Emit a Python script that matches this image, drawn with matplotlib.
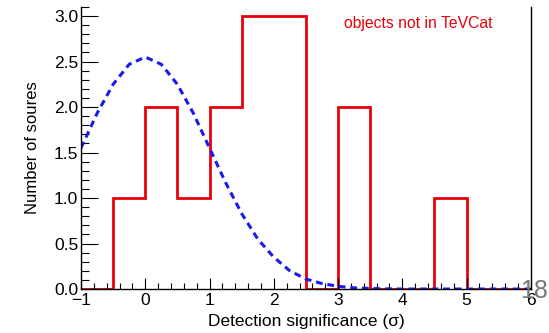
import matplotlib
matplotlib.use("Agg")
import matplotlib.pyplot as plt
import numpy as np
from matplotlib.ticker import MultipleLocator

# histogram of detection significance, bins of 0.5 sigma
edges = [-1.0, -0.5, 0.0, 0.5, 1.0, 1.5, 2.0, 2.5, 3.0, 3.5, 4.0, 4.5, 5.0, 5.5, 6.0]
counts = [0, 1, 2, 1, 2, 3, 3, 0, 2, 0, 0, 1, 0, 0]

# expected curve
curve_x = [-1.0, -0.75, -0.5, -0.25, 0.0, 0.25, 0.5, 0.75, 1.0, 1.25, 1.5, 1.75,
           2.0, 2.25, 2.5, 2.75, 3.0, 3.25, 3.5, 3.75, 4.0, 5.0, 6.0]
curve_y = [1.55, 1.93, 2.25, 2.47, 2.55, 2.47, 2.25, 1.93, 1.55, 1.17, 0.83, 0.55,
           0.35, 0.20, 0.11, 0.06, 0.03, 0.013, 0.006, 0.002, 0.0, 0.0, 0.0]

plt.rcParams['font.family'] = ['Liberation Sans', 'DejaVu Sans']

fig = plt.figure(figsize=(5.49, 3.33), dpi=100)
ax = fig.add_axes([0.1475, 0.132, 0.8195, 0.847])

ax.stairs(counts, edges, color='#e8000b', lw=2.0, baseline=0)
ax.plot(curve_x, curve_y, color='#1a1aee', lw=2.2, ls=(0, (2.2, 1.6)))

ax.set_xlim(-1, 6)
ax.set_ylim(0, 3.1)
ax.xaxis.set_major_locator(MultipleLocator(1))
ax.xaxis.set_minor_locator(MultipleLocator(0.2))
ax.yaxis.set_major_locator(MultipleLocator(0.5))
ax.yaxis.set_minor_locator(MultipleLocator(0.1))
ax.yaxis.set_major_formatter(matplotlib.ticker.FormatStrFormatter('%.1f'))
ax.tick_params(which='both', direction='in', top=False, right=False, labelsize=12.5, width=0.8)
ax.tick_params(axis='y', which='major', length=12, pad=2)
ax.tick_params(axis='y', which='minor', length=6)
ax.tick_params(axis='x', which='major', length=8, pad=3)
ax.tick_params(axis='x', which='minor', length=4)
ax.spines['top'].set_visible(False)
for s in ['left', 'bottom', 'right']:
    ax.spines[s].set_linewidth(1.0)

ax.set_xlabel('Detection significance (σ)', fontsize=12.5, labelpad=4)
ax.set_ylabel('Number of soures', fontsize=12, labelpad=10)

ax.text(0.585, 0.94, 'objects not in TeVCat', color='#e8000b', fontsize=11.3,
        transform=ax.transAxes, ha='left', va='center')
fig.text(0.998, 0.125, '18', color='#777777', fontsize=18, ha='right', va='center')

fig.savefig("out.png", dpi=100)
